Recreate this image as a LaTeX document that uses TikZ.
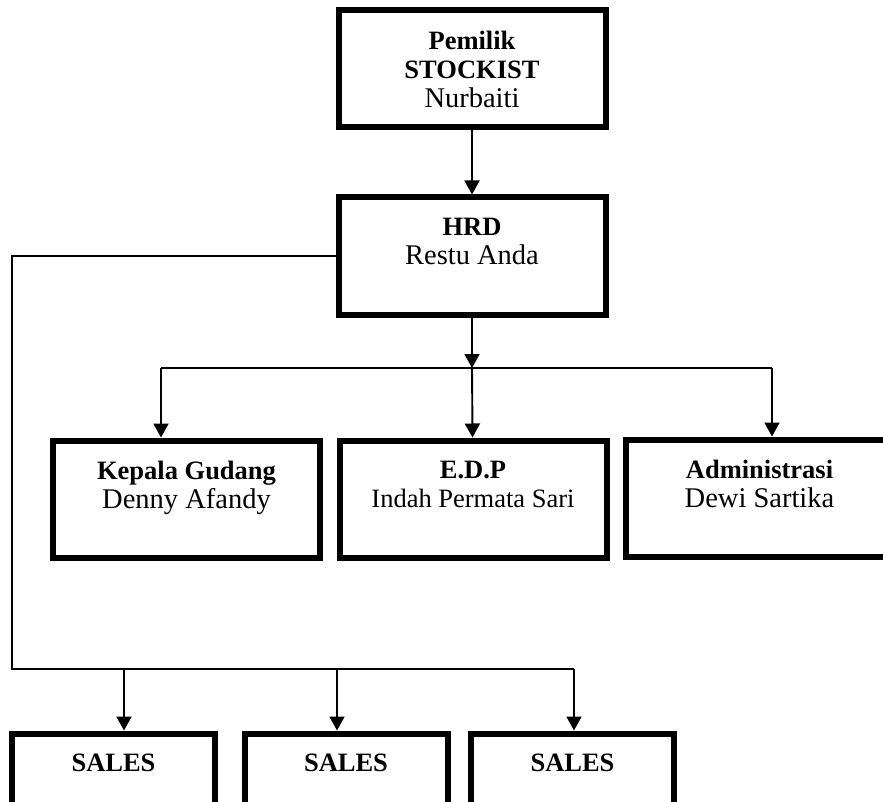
\documentclass[tikz,border=0pt]{standalone}
\usepackage{fontspec}
\setmainfont{Liberation Serif}
\usetikzlibrary{arrows.meta}

\begin{document}
\begin{tikzpicture}[x=1pt, y=-1pt,
    kotak/.style={draw, line width=6pt, align=center, minimum width=267pt, minimum height=117pt,
        font=\fontsize{26.5}{29}\selectfont},
    kotaksales/.style={kotak, minimum width=203pt},
    garis/.style={line width=1.9pt},
    panah/.style={garis, -{Triangle[width=15pt,length=14pt]}}]
        \useasboundingbox (0,0) rectangle (883,802);
        \clip (0,0) rectangle (883,802);

        \node[kotak] (pemilik) at (472,69) {\textbf{Pemilik}\\\textbf{STOCKIST}\\{\fontsize{28.5}{29}\selectfont Nurbaiti}};
        \node[kotak] (hrd) at (472,256) {\textbf{HRD}\\{\fontsize{28.5}{29}\selectfont Restu Anda}\\~};

        \node[kotak] (gudang) at (186.5,499) {\textbf{Kepala Gudang}\\{\fontsize{28.5}{29}\selectfont Denny Afandy}\\~};
        \node[kotak] (edp) at (473,499) {\textbf{E.D.P}\\Indah Permata Sari\\~};
        \node[kotak] (admin) at (759.5,498) {\textbf{Administrasi}\\{\fontsize{28.5}{29}\selectfont Dewi Sartika}\\~};

        \node[kotaksales] (sales1) at (113.5,792) {\textbf{SALES}\\~\\~};
        \node[kotaksales] (sales2) at (346,792) {\textbf{SALES}\\~\\~};
        \node[kotaksales] (sales3) at (572.5,792) {\textbf{SALES}\\~\\~};

        \coordinate (ka) at (161,368);
        \coordinate (kc) at (772,368);
        \coordinate (tengah) at (hrd.south |- ka);
        \coordinate (kiri) at (12,669);
        \coordinate (s1) at (124,669);
        \coordinate (s2) at (337,669);
        \coordinate (s3) at (574,669);

        \draw[panah] (pemilik) -- (hrd);
        \draw[panah] (hrd) -- (tengah);
        \draw[garis] (ka) -- (kc);
        \draw[panah] (ka) -- (ka |- gudang.north);
        \draw[panah] (tengah) -- (edp);
        \draw[panah] (kc) -- (kc |- admin.north);

        \draw[garis] (hrd.west) -| (kiri) -- (s3);
        \draw[panah] (s1) -- (s1 |- sales1.north);
        \draw[panah] (s2) -- (s2 |- sales2.north);
        \draw[panah] (s3) -- (s3 |- sales3.north);
    \end{tikzpicture}
\end{document}
